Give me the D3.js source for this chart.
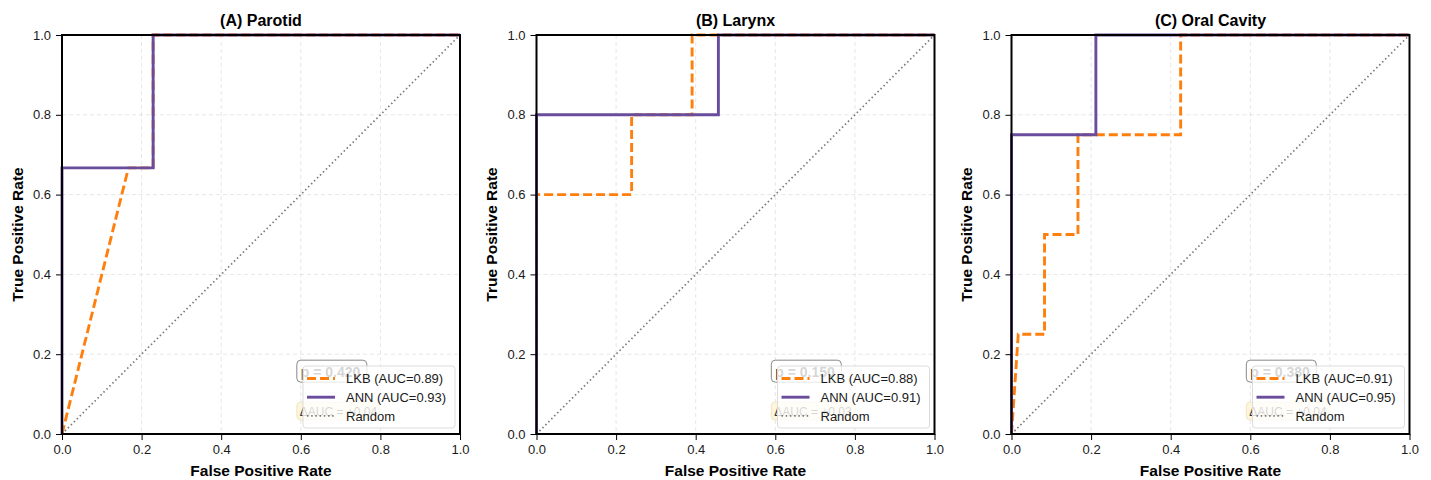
<!DOCTYPE html>
<html>
<head>
<meta charset="utf-8">
<script src="https://cdn.jsdelivr.net/npm/d3@7"></script>
<style>
  html, body { margin: 0; padding: 0; background: #fff; }
  svg { display: block; font-family: "Liberation Sans", Arial, sans-serif; }
</style>
</head>
<body>
<svg id="chart" width="1431" height="480"></svg>
<script>
// ROC curves for three organs-at-risk, LKB model vs ANN model
const panelTitles = ["(A) Parotid", "(B) Larynx", "(C) Oral Cavity"];

const lkbFpr = [
  [0, 0.167, 0.229, 0.229, 1],
  [0, 0, 0.239, 0.239, 0.391, 0.391, 1],
  [0, 0.017, 0.083, 0.083, 0.167, 0.167, 0.425, 0.425, 1]
];
const lkbTpr = [
  [0, 0.667, 0.667, 1, 1],
  [0, 0.6, 0.6, 0.8, 0.8, 1, 1],
  [0, 0.25, 0.25, 0.5, 0.5, 0.75, 0.75, 1, 1]
];
const annFpr = [
  [0, 0, 0.229, 0.229, 1],
  [0, 0, 0.457, 0.457, 1],
  [0, 0, 0.212, 0.212, 1]
];
const annTpr = [
  [0, 0.667, 0.667, 1, 1],
  [0, 0.8, 0.8, 1, 1],
  [0, 0.75, 0.75, 1, 1]
];
const lkbAuc = ["0.89", "0.88", "0.91"];
const annAuc = ["0.93", "0.91", "0.95"];
const pValues = ["0.420", "0.150", "0.380"];
const deltaAuc = ["+0.04", "+0.03", "+0.04"];
const tickValues = [0, 0.2, 0.4, 0.6, 0.8, 1.0];

const svg = d3.select("#chart");
const panelLeft = [62, 536.5, 1011.5];
const plotW = 398, plotTop = 35, plotH = 399;
const LKB_COLOR = "#ff7f0e", ANN_COLOR = "#6a4c9c";

panelTitles.forEach((title, i) => {
  const g = svg.append("g").attr("transform", `translate(${panelLeft[i]},${plotTop})`);
  const x = d3.scaleLinear().domain([0, 1]).range([0, plotW]);
  const y = d3.scaleLinear().domain([0, 1]).range([plotH, 0]);

  // grid
  const grid = g.append("g");
  tickValues.forEach(t => {
    grid.append("line").attr("x1", x(t)).attr("x2", x(t)).attr("y1", 0).attr("y2", plotH)
      .attr("stroke", "#d9d9d9").attr("stroke-width", 0.8).attr("stroke-dasharray", "4,3").attr("opacity", 0.8);
    grid.append("line").attr("x1", 0).attr("x2", plotW).attr("y1", y(t)).attr("y2", y(t))
      .attr("stroke", "#d9d9d9").attr("stroke-width", 0.8).attr("stroke-dasharray", "4,3").attr("opacity", 0.8);
  });

  const line = d3.line().x(d => x(d[0])).y(d => y(d[1]));

  // chance diagonal
  g.append("path").datum([[0, 0], [1, 1]]).attr("d", line)
    .attr("fill", "none").attr("stroke", "#7a7a7a").attr("stroke-width", 1.7)
    .attr("stroke-dasharray", "1.5,2.7").attr("stroke-linecap", "butt");

  // LKB curve
  g.append("path").datum(lkbFpr[i].map((f, k) => [f, lkbTpr[i][k]])).attr("d", line)
    .attr("fill", "none").attr("stroke", LKB_COLOR).attr("stroke-width", 2.9)
    .attr("stroke-dasharray", "9,4");

  // ANN curve
  g.append("path").datum(annFpr[i].map((f, k) => [f, annTpr[i][k]])).attr("d", line)
    .attr("fill", "none").attr("stroke", ANN_COLOR).attr("stroke-width", 2.9);

  // axes
  const xAxis = g.append("g").attr("transform", `translate(0,${plotH})`)
    .call(d3.axisBottom(x).tickValues(tickValues).tickFormat(d3.format(".1f")).tickSize(6).tickPadding(5));
  const yAxis = g.append("g")
    .call(d3.axisLeft(y).tickValues(tickValues).tickFormat(d3.format(".1f")).tickSize(6).tickPadding(5));
  [xAxis, yAxis].forEach(a => {
    a.select(".domain").remove();
    a.selectAll(".tick line").attr("stroke", "#000").attr("stroke-width", 1);
    a.selectAll(".tick text").attr("fill", "#1a1a1a").style("font-size", "13px")
      .style("font-family", "'Liberation Sans', Arial, sans-serif");
  });

  // frame
  g.append("rect").attr("x", 0).attr("y", 0).attr("width", plotW).attr("height", plotH)
    .attr("fill", "none").attr("stroke", "#000").attr("stroke-width", 2);

  // title and axis labels
  g.append("text").attr("x", plotW / 2).attr("y", -9).attr("text-anchor", "middle")
    .style("font-size", "16px").style("font-weight", "bold").text(title);
  g.append("text").attr("x", plotW / 2).attr("y", plotH + 42).attr("text-anchor", "middle")
    .style("font-size", "15.5px").style("font-weight", "bold").text("False Positive Rate");
  g.append("text").attr("transform", `translate(${22.5 - panelLeft[0]},${plotH / 2}) rotate(-90)`)
    .attr("text-anchor", "middle")
    .style("font-size", "15.5px").style("font-weight", "bold").text("True Positive Rate");

  // statistics annotations
  const ax = x(0.59);
  const pBox = g.append("g");
  pBox.append("rect").attr("x", ax).attr("y", y(0.185)).attr("width", 70).attr("height", 22)
    .attr("rx", 4).attr("fill", "#fff").attr("stroke", "#888").attr("stroke-width", 1);
  pBox.append("text").attr("x", ax + 4).attr("y", y(0.185) + 16.5)
    .style("font-size", "14px").style("font-weight", "bold").attr("fill", "#333")
    .text(`p = ${pValues[i]}`);

  const dBox = g.append("g");
  dBox.append("rect").attr("x", ax).attr("y", y(0.08)).attr("width", 84).attr("height", 18)
    .attr("rx", 4).attr("fill", "#fdf6dc").attr("stroke", "#f0e6c0").attr("stroke-width", 1);
  dBox.append("text").attr("x", ax + 3).attr("y", y(0.08) + 14)
    .style("font-size", "12px").attr("fill", "#333")
    .text(`\u0394AUC = ${deltaAuc[i]}`);

  // legend
  const lg = g.append("g").attr("transform", `translate(${plotW - 157},${plotH - 68})`);
  lg.append("rect").attr("x", 0).attr("y", 0).attr("width", 152).attr("height", 62)
    .attr("rx", 3).attr("fill", "#fff").attr("fill-opacity", 0.8)
    .attr("stroke", "#dcdcdc").attr("stroke-width", 1);
  const entries = [
    { label: `LKB (AUC=${lkbAuc[i]})`, color: LKB_COLOR, dash: "9,4", w: 2.9 },
    { label: `ANN (AUC=${annAuc[i]})`, color: ANN_COLOR, dash: null, w: 2.9 },
    { label: "Random", color: "#7a7a7a", dash: "1.5,2.7", w: 1.7 }
  ];
  entries.forEach((e, k) => {
    const cy = 12.5 + k * 18.7;
    lg.append("line").attr("x1", 4).attr("x2", 32).attr("y1", cy).attr("y2", cy)
      .attr("stroke", e.color).attr("stroke-width", e.w)
      .attr("stroke-dasharray", e.dash);
    lg.append("text").attr("x", 43).attr("y", cy + 4.6)
      .style("font-size", "13px").attr("fill", "#1a1a1a").text(e.label);
  });
});
</script>
</body>
</html>
